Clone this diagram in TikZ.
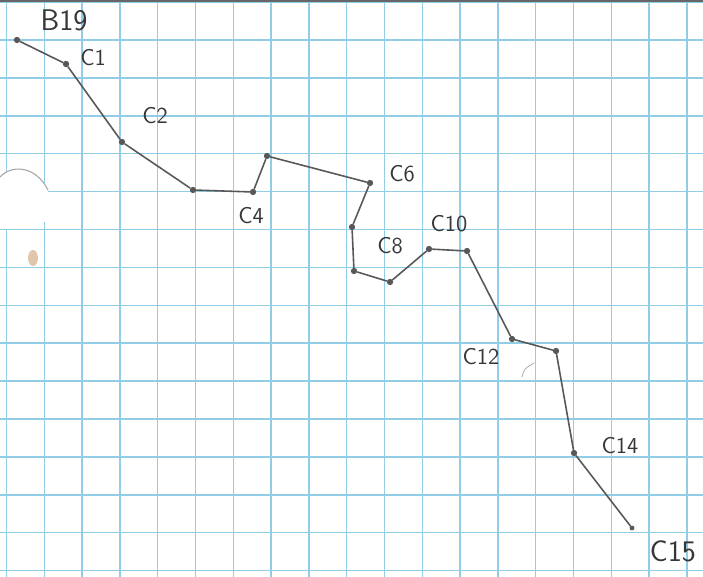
\documentclass[tikz,border=0pt]{standalone}
\usetikzlibrary{arrows.meta, calc}
\definecolor{gridblue}{RGB}{145,205,228}
\definecolor{pencil}{RGB}{88,88,88}
\definecolor{pencildark}{RGB}{55,55,55}
\definecolor{stain}{RGB}{205,160,120}

\begin{document}
\begin{tikzpicture}[x=0.02cm, y=-0.02cm, line cap=round, line join=round,
	gridline/.style={gridblue, line width=0.9pt},
	trail/.style={pencil, line width=0.9pt},
	pt/.style={circle, fill=pencil, inner sep=0pt, minimum size=3.6pt},
	tag/.style={pencildark, font=\fontsize{13}{15}\selectfont\sffamily, inner sep=0pt},
	bigtag/.style={tag, font=\fontsize{17}{19}\selectfont\sffamily}]

\useasboundingbox (0,0) rectangle (703,577);
\fill[white] (0,0) rectangle (703,577);

%========================
% graph paper
%========================
\foreach \k in {0,...,18}
	\draw[gridline] ({6.5+37.8*\k},0) -- ({6.5+37.8*\k},577);
\foreach \k in {-1,...,14}
	\draw[gridline] (0,{40+37.9*\k}) -- (703,{40+37.9*\k});
% scan edge at the top
\draw[gray!80!black, line width=1.2pt] (0,1) -- (703,1);

% punched hole on the left margin
\fill[white] (0,229) -- (0,177) .. controls (12,164) and (36,166) .. (48,190)
	-- (46,221) -- (32,229) -- cycle;
\draw[gray!70, line width=0.6pt] (0,177) .. controls (12,164) and (36,166) .. (48,190);
% stain and stray mark
\fill[stain, opacity=0.6] (33,258) ellipse (5 and 8);
\draw[gray!60, line width=0.5pt] (522,377) .. controls (524,369) .. (534,363);

%========================
% survey stations
%========================
\node[pt] (b19) at (17,40) {};
\node[pt] (c1) at (66,64) {};
\node[pt] (c2) at (122,142) {};
\node[pt] (c3) at (193,190) {};
\node[pt] (c4) at (253,192) {};
\node[pt] (c5) at (267,156) {};
\node[pt] (c6) at (370,183) {};
\node[pt] (c7) at (352,227) {};
\node[pt] (c8) at (354,271) {};
\node[pt] (c9) at (390,282) {};
\node[pt] (c10) at (429,249) {};
\node[pt] (c11) at (467,251) {};
\node[pt] (c12) at (512,339) {};
\node[pt] (c13) at (556,351) {};
\node[pt] (c14) at (574,453) {};
\node[pt, minimum size=2.8pt] (c15) at (632,528) {};

% the traverse
\draw[trail] (b19) -- (c1) -- (c2) -- (c3) -- (c4) -- (c5) -- (c6) -- (c7)
	-- (c8) -- (c9) -- (c10) -- (c11) -- (c12) -- (c13) -- (c14) -- (c15);

% station labels
\node[bigtag] (lb19) at (64,20) {B19};
\node[tag] (lc1) at (93,58) {C1};
\node[tag] (lc2) at (155,116) {C2};
\node[tag] (lc4) at (251,216) {C4};
\node[tag] (lc6) at (402,174) {C6};
\node[tag] (lc8) at (390,246) {C8};
\node[tag] (lc10) at (449,224) {C10};
\node[tag] (lc12) at (481,357) {C12};
\node[tag] (lc14) at (620,446) {C14};
\node[bigtag] (lc15) at (673,551) {C15};

\end{tikzpicture}
\end{document}
